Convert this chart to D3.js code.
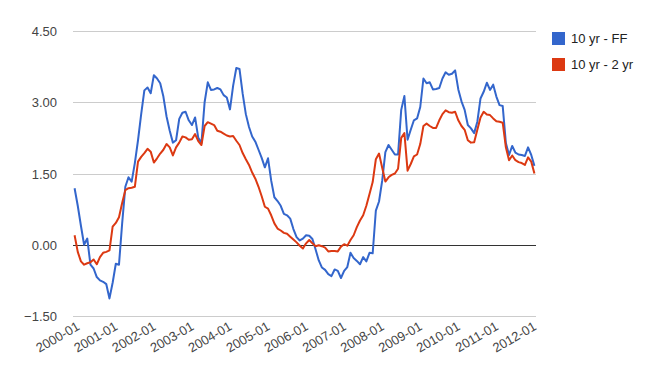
<html>
<head>
<script src="https://d3js.org/d3.v7.min.js" charset="utf-8"></script>
<style>
body {
	margin:0;
	background:#ffffff;
	font-family:"Liberation Sans", Arial, sans-serif;
}
svg text {
	fill:#444444;
	font-size:13px;
}
</style>
</head>
<body>
<svg width="655" height="382" id="viz"></svg>
<script>
// monthly spreads, 2000-01 .. 2012-02
var tenYrFF = [1.19,0.82,0.40,0.00,0.13,-0.42,-0.50,-0.68,-0.75,-0.78,-0.83,-1.13,
	-0.80,-0.40,-0.42,0.45,1.22,1.42,1.33,1.72,2.20,2.75,3.25,3.31,
	3.19,3.57,3.50,3.40,3.12,2.70,2.40,2.15,2.20,2.65,2.78,2.80,
	2.62,2.52,2.68,2.25,2.14,3.00,3.42,3.26,3.27,3.30,3.27,3.15,
	3.10,2.85,3.35,3.72,3.70,3.18,2.75,2.48,2.28,2.17,2.00,1.83,
	1.63,1.82,1.35,1.00,0.92,0.82,0.65,0.62,0.55,0.33,0.16,0.09,
	0.13,0.20,0.19,0.12,-0.10,-0.33,-0.48,-0.53,-0.62,-0.66,-0.52,-0.55,
	-0.70,-0.55,-0.47,-0.17,-0.28,-0.34,-0.41,-0.26,-0.35,-0.17,-0.18,0.72,
	0.91,1.35,1.95,2.10,2.00,1.90,1.90,2.84,3.13,2.21,2.42,2.62,
	2.66,2.90,3.50,3.40,3.42,3.27,3.28,3.30,3.50,3.63,3.58,3.60,
	3.67,3.27,3.02,2.84,2.52,2.45,2.35,2.59,3.08,3.22,3.41,3.26,
	3.37,3.12,2.94,2.92,2.14,1.89,2.08,1.94,1.90,1.89,1.87,2.05,
	1.89,1.66];
var tenYrTwoYr = [0.20,-0.15,-0.35,-0.42,-0.39,-0.37,-0.31,-0.41,-0.26,-0.17,-0.15,-0.12,
	0.38,0.46,0.58,0.88,1.15,1.19,1.20,1.22,1.75,1.85,1.93,2.02,
	1.96,1.73,1.82,1.92,2.00,2.12,2.05,1.88,2.05,2.15,2.28,2.26,
	2.21,2.22,2.33,2.18,2.10,2.50,2.58,2.55,2.52,2.40,2.38,2.34,
	2.30,2.28,2.29,2.19,2.10,1.93,1.80,1.68,1.52,1.39,1.22,1.02,
	0.80,0.76,0.62,0.45,0.34,0.30,0.25,0.23,0.17,0.11,0.05,-0.02,
	-0.08,0.03,0.10,0.03,-0.03,-0.01,-0.03,-0.06,-0.14,-0.13,-0.13,-0.14,
	-0.04,0.01,-0.02,0.10,0.20,0.37,0.51,0.62,0.82,1.07,1.32,1.80,
	1.92,1.62,1.33,1.42,1.47,1.50,1.60,2.25,2.35,1.56,1.70,1.86,
	1.90,2.12,2.50,2.55,2.50,2.46,2.46,2.62,2.75,2.83,2.79,2.78,
	2.80,2.62,2.50,2.42,2.20,2.15,2.16,2.42,2.68,2.80,2.74,2.73,
	2.66,2.60,2.59,2.57,2.05,1.78,1.88,1.78,1.74,1.72,1.68,1.84,
	1.75,1.50];
var tickLabels = ["2000-01","2001-01","2002-01","2003-01","2004-01","2005-01","2006-01",
	"2007-01","2008-01","2009-01","2010-01","2011-01","2012-01"];
var yTicks = [-1.5,0,1.5,3,4.5];
var seriesNames = ["10 yr - FF","10 yr - 2 yr"];
var seriesColors = ["#3366cc","#dc3912"];

// one category per month
var months = [];
for (var i=0;i<tenYrFF.length;i++) {
	var yr = 2000 + Math.floor(i/12);
	var mo = (i%12)+1;
	months.push(yr+"-"+(mo<10 ? "0"+mo : mo));
}

var svg = d3.select("#viz");
var xScale = d3.scalePoint().domain(months).range([73,536]).padding(0.5);
var yScale = d3.scaleLinear().domain([-1.5,4.5]).range([316,31]);

// gridlines
svg.append("g").selectAll("line").data(yTicks).enter().append("line")
	.attr("x1",73).attr("x2",536)
	.attr("y1",function (d) { return Math.round(yScale(d))+0.5; })
	.attr("y2",function (d) { return Math.round(yScale(d))+0.5; })
	.attr("stroke",function (d) { return d==0 ? "#333333" : "#cccccc"; })
	.attr("stroke-width",1);

// y labels
var yAxis = d3.axisLeft(yScale).tickValues(yTicks).tickFormat(d3.format(".2f")).tickSize(0).tickPadding(16);
svg.append("g").attr("class","yaxis").attr("transform","translate(73,0)").call(yAxis);
svg.select(".yaxis .domain").remove();
svg.selectAll(".yaxis text").attr("font-family",null).attr("font-size",null).attr("dy","0.35em");

// x labels, slanted
svg.append("g").selectAll("text").data(tickLabels).enter().append("text")
	.attr("text-anchor","end")
	.attr("transform",function (d) { return "translate("+(xScale(d)+6)+",329)rotate(-30)"; })
	.text(function (d) { return d; });

// lines
var allSeries = [tenYrFF,tenYrTwoYr];
var line = d3.line()
	.x(function (d,i) { return xScale(months[i]); })
	.y(function (d) { return yScale(d); });
svg.append("g").selectAll("path").data(allSeries).enter().append("path")
	.attr("d",line)
	.attr("fill","none")
	.attr("stroke",function (d,i) { return seriesColors[i]; })
	.attr("stroke-width",2)
	.attr("stroke-linejoin","round");

// legend
var legend = svg.append("g").selectAll("g").data(seriesNames).enter().append("g")
	.attr("transform",function (d,i) { return "translate(552,"+(32+i*26)+")"; });
legend.append("rect").attr("width",13).attr("height",13)
	.attr("fill",function (d,i) { return seriesColors[i]; });
legend.append("text").attr("x",19).attr("y",11).style("fill","#222222").text(function (d) { return d; });
</script>
</body>
</html>
